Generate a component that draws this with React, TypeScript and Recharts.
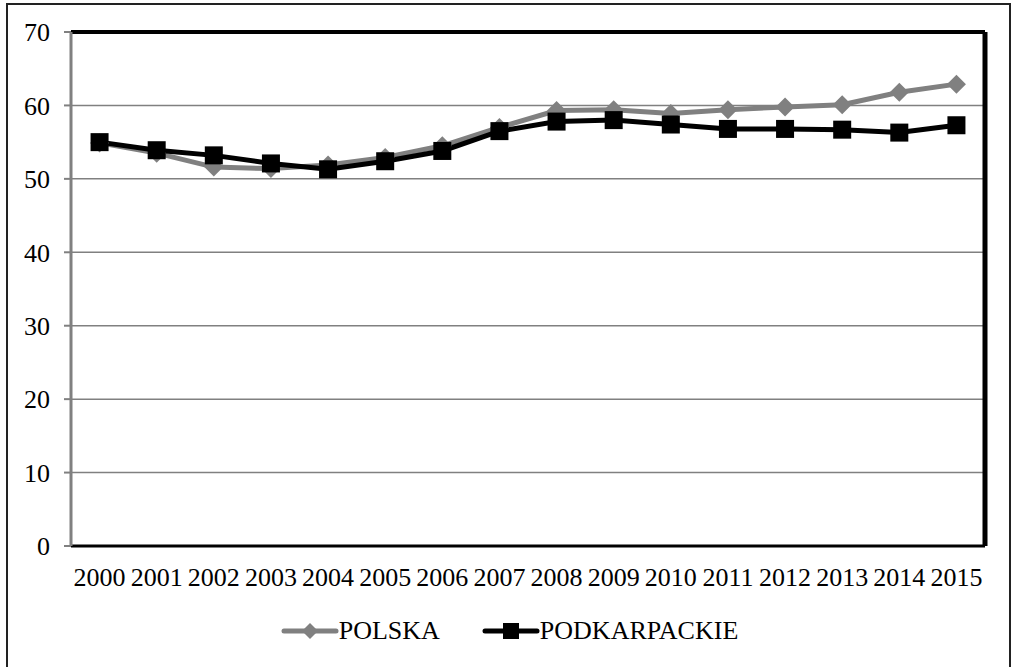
import { LineChart, Line, XAxis, YAxis, CartesianGrid, Legend, ReferenceLine } from 'recharts';

const years = ['2000', '2001', '2002', '2003', '2004', '2005', '2006', '2007', '2008', '2009', '2010', '2011', '2012', '2013', '2014', '2015'];
const polska = [54.9, 53.5, 51.6, 51.4, 51.9, 52.9, 54.5, 57.0, 59.3, 59.4, 58.9, 59.4, 59.8, 60.1, 61.8, 62.9];
const podkarpackie = [55.0, 53.9, 53.2, 52.1, 51.3, 52.4, 53.8, 56.5, 57.8, 58.0, 57.4, 56.8, 56.8, 56.7, 56.3, 57.3];
const yTicks = [0, 10, 20, 30, 40, 50, 60, 70];

const data = years.map((year, i) => ({ year, pos: i + 0.5, polska: polska[i], podkarpackie: podkarpackie[i] }));
const boundaryTicks = [...years.map((_, i) => i), years.length];

const FONT = 'Liberation Serif';
const GREY = '#808080';

const Diamond = (props: any) => {
    const { cx, cy } = props;
    if (cx == null || cy == null) return null;
    const r = 9.5;
    return <polygon points={`${cx},${cy - r} ${cx + r},${cy} ${cx},${cy + r} ${cx - r},${cy}`} fill={GREY} />;
};

const Square = (props: any) => {
    const { cx, cy } = props;
    if (cx == null || cy == null) return null;
    const s = 9;
    return <rect x={cx - s} y={cy - s} width={s * 2} height={s * 2} fill="#000" />;
};

const LegendContent = () => (
    <div style={{ display: 'flex', justifyContent: 'center', alignItems: 'center', fontFamily: FONT, fontSize: 26, color: '#000', height: 58, paddingLeft: 34 }}>
        <svg width={58} height={20}>
            <line x1={3} y1={10} x2={55} y2={10} stroke={GREY} strokeWidth={5} strokeLinecap="round" />
            <polygon points="29,2 37,10 29,18 21,10" fill={GREY} />
        </svg>
        <span style={{ marginRight: 42 }}>POLSKA</span>
        <svg width={58} height={20}>
            <line x1={3} y1={10} x2={55} y2={10} stroke="#000" strokeWidth={5} strokeLinecap="round" />
            <rect x={21} y={2} width={16} height={16} fill="#000" />
        </svg>
        <span>PODKARPACKIE</span>
    </div>
);

export default function App() {
    return (
        <div style={{ fontFamily: FONT }}>
            <div style={{ position: 'absolute', left: 6, top: 3, width: 1005, height: 680, border: '2px solid #222', boxSizing: 'border-box' }} />
            <div style={{ position: 'absolute', left: 0, top: 0 }}>
                <LineChart width={1015} height={667} data={data} margin={{ top: 32, right: 30, bottom: 7, left: 0 }}>
                    <CartesianGrid xAxisId="axisB" vertical={false} stroke={GREY} strokeWidth={1.5} />
                    <XAxis
                        xAxisId="axisB"
                        type="number"
                        dataKey="pos"
                        domain={[0, years.length]}
                        ticks={data.map(d => d.pos)}
                        tickFormatter={(v: number) => years[Math.floor(v)]}
                        interval={0}
                        height={55}
                        axisLine={false}
                        tickLine={false}
                        tickMargin={15}
                        tick={{ fill: '#000', fontSize: 26, fontFamily: FONT }}
                    />
                    <XAxis
                        xAxisId="axisA"
                        type="number"
                        domain={[0, years.length]}
                        ticks={boundaryTicks}
                        tick={false}
                        height={1}
                        axisLine={{ stroke: '#000', strokeWidth: 3 }}
                        tickLine={{ stroke: GREY, strokeWidth: 2 }}
                        tickSize={7}
                    />
                    <YAxis
                        domain={[0, 70]}
                        ticks={yTicks}
                        width={71}
                        interval={0}
                        axisLine={{ stroke: GREY, strokeWidth: 3 }}
                        tickLine={{ stroke: GREY, strokeWidth: 2 }}
                        tickSize={7}
                        tickMargin={14}
                        tick={{ fill: '#000', fontSize: 26, fontFamily: FONT }}
                    />
                    <ReferenceLine y={70} xAxisId="axisB" stroke="#000" strokeWidth={4} />
                    <ReferenceLine x={years.length} xAxisId="axisB" stroke="#000" strokeWidth={5} />
                    <Legend verticalAlign="bottom" height={58} content={<LegendContent />} />
                    <Line xAxisId="axisB" dataKey="polska" name="POLSKA" stroke={GREY} strokeWidth={5} dot={<Diamond />} activeDot={false} isAnimationActive={false} />
                    <Line xAxisId="axisB" dataKey="podkarpackie" name="PODKARPACKIE" stroke="#000" strokeWidth={5} dot={<Square />} activeDot={false} isAnimationActive={false} />
                </LineChart>
            </div>
        </div>
    );
}
